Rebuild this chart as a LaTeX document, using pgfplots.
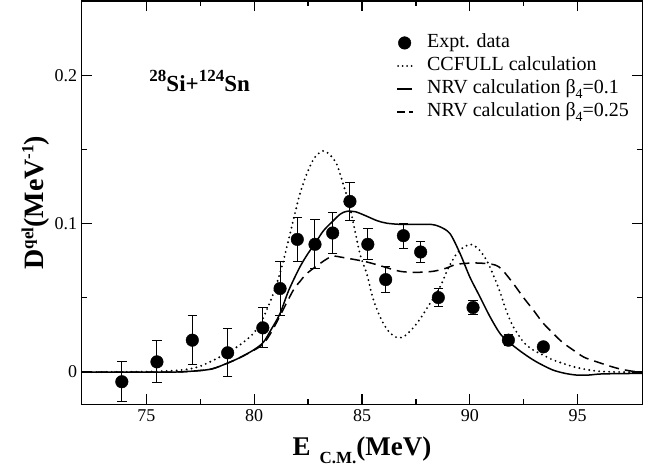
\documentclass[border=0pt]{standalone}
\usepackage{fontspec}
\setmainfont{Liberation Serif}
\usepackage{pgfplots}
\pgfplotsset{compat=1.18}
\usepackage{pgfplotstable}
\usetikzlibrary{calc}

% E_cm (MeV), D^qel (MeV^-1), error
\pgfplotstableread{
E      D        err
73.86  -0.0065  0.0135
75.49   0.0069  0.0142
77.13   0.0215  0.0167
78.77   0.0130  0.0161
80.40   0.0298  0.0135
81.20   0.0563  0.0180
82.00   0.0894  0.0150
82.82   0.0861  0.0166
83.64   0.0937  0.0140
84.44   0.1150  0.0126
85.27   0.0861  0.0103
86.10   0.0623  0.0086
86.92   0.0919  0.0084
87.72   0.0809  0.0074
88.54   0.0502  0.0060
90.15   0.0435  0.0045
91.79   0.0215  0.0036
93.41   0.0170  0.0025
}\expt

\pgfplotstableread{
E      D
72.0   0.0
75.0   0.0003
76.56  0.0013
77.5   0.004
78.72  0.0126
79.4   0.019
79.96  0.026
80.4   0.036
80.89  0.053
81.3   0.072
81.81  0.102
82.1   0.119
82.44  0.1336
82.8   0.1445
83.2   0.149
83.5   0.1465
83.82  0.1403
84.1   0.128
84.44  0.111
84.9   0.080
85.22  0.0664
85.5   0.050
85.84  0.0372
86.2   0.028
86.61  0.0233
87.0   0.0245
87.54  0.0327
88.1   0.045
88.62  0.0574
89.0   0.070
89.39  0.0798
89.7   0.084
90.05  0.086
90.4   0.083
90.78  0.0753
91.1   0.065
91.4   0.054
91.7   0.041
92.02  0.0305
92.5   0.020
92.95  0.0148
93.4   0.0115
93.87  0.0081
94.4   0.0055
94.8   0.0036
95.5   0.0015
96.04  0.0005
97.0   0.0
98.0   0.0
}\ccfull

\pgfplotstableread{
E      D
72.0   0.0
76.0   0.0
77.0   0.0005
78.0   0.002
78.72  0.0058
79.3   0.0095
79.96  0.0148
80.42  0.020
80.8   0.029
81.2   0.0395
81.6   0.055
82.12  0.0708
82.5   0.080
82.82  0.0865
83.2   0.095
83.67  0.102
84.0   0.1065
84.29  0.1083
84.7   0.108
85.22  0.105
85.7   0.102
86.15  0.1003
86.8   0.0995
87.5   0.0995
88.2   0.0995
88.6   0.098
89.08  0.0933
89.55  0.0798
90.0   0.0641
90.47  0.0507
90.94  0.0372
91.4   0.026
91.79  0.0204
92.4   0.0135
92.95  0.0081
93.4   0.0045
93.87  0.0013
94.4  -0.0008
94.95 -0.002
95.5  -0.002
96.04 -0.0013
97.0  -0.001
98.0  -0.0009
}\nrvA

\pgfplotstableread{
E      D
72.0   0.0
76.0   0.0
77.0   0.0005
78.0   0.002
78.72  0.0058
79.3   0.0095
79.96  0.0145
80.42  0.019
80.8   0.027
81.2   0.038
81.81  0.0551
82.12  0.061
82.44  0.0664
83.05  0.0731
83.4   0.0765
83.67  0.0782
84.0   0.0775
84.44  0.0764
85.22  0.0742
86.0   0.071
86.76  0.0679
87.5   0.0672
88.3   0.0679
88.9   0.070
89.39  0.0726
90.16  0.0735
90.78  0.0731
91.2   0.072
91.5   0.069
92.02  0.0596
92.5   0.050
92.95  0.0417
93.4   0.033
93.87  0.026
94.3   0.020
94.8   0.0148
95.3   0.010
95.89  0.0069
96.5   0.004
97.0   0.002
97.58  0.0005
98.0   0.0
}\nrvB

\newcommand{\sups}[1]{\raisebox{10pt}{\fontsize{17}{17}\selectfont #1}}
\newcommand{\subf}{\raisebox{-5pt}{\fontsize{14}{14}\selectfont 4}}

\begin{document}
\begin{tikzpicture}
\begin{axis}[
  scale only axis, width=560.6pt, height=403.3pt,
  xmin=72, xmax=98, ymin=-0.0217, ymax=0.25,
  xtick={75,80,...,95}, ytick={0,0.1,0.2},
  minor x tick num=1, minor y tick num=1,
  tick align=inside, major tick length=10pt, minor tick length=5pt,
  axis line style={line width=1.2pt},
  every tick/.style={black, line width=1.2pt},
  /pgf/number format/assume math mode=true,
  ticklabel style={font=\fontsize{18}{18}\selectfont},
  yticklabel style={xshift=-1pt},
  xticklabel style={yshift=-2pt},
  xlabel={\textbf{E\hspace{9pt}\raisebox{-8pt}{\fontsize{17}{17}\selectfont C.M.}(MeV)}},
  xlabel style={font=\fontsize{27}{27}\selectfont, at={(axis description cs:0.5,-0.1257)}, anchor=base},
  ylabel={\textbf{D\sups{qel}(MeV\sups{-1})}},
  ylabel style={font=\fontsize{28}{28}\selectfont, at={(axis description cs:-0.0685,0.5)}, anchor=base},
  legend style={at={(axis description cs:0.561,0.92)}, anchor=north west,
    draw=none, fill=none, inner sep=0pt, row sep=4pt,
    font=\fontsize{20}{20}\selectfont,
    nodes={inner sep=1pt, text height=13pt, text depth=4pt},
    /tikz/every odd column/.append style={column sep=12pt}},
  legend cell align=left,
]
\addlegendimage{legend image code/.code={\fill[black] (7.5pt,0pt) circle (6.3pt);}}
\addlegendentry{Expt. data}
\addlegendimage{legend image code/.code={\draw[black, line width=2pt, line cap=round, dash pattern=on 0pt off 4.5pt] (1pt,0pt) -- (16pt,0pt);}}
\addlegendentry{CCFULL calculation}
\addlegendimage{legend image code/.code={\draw[black, line width=1.5pt] (0pt,0pt) -- (15pt,0pt);}}
\addlegendentry{NRV calculation β\subf=0.1}
\addlegendimage{legend image code/.code={\draw[black, line width=1.5pt, dash pattern=on 8pt off 4pt] (0pt,0pt) -- (16pt,0pt);}}
\addlegendentry{NRV calculation β\subf=0.25}

\addplot[forget plot, black, line width=2.1pt, line cap=round, dash pattern=on 0pt off 5pt, smooth] table[x=E, y=D] {\ccfull};
\addplot[forget plot, black, line width=1.5pt, smooth] table[x=E, y=D] {\nrvA};
\addplot[forget plot, black, line width=1.5pt, dash pattern=on 10pt off 6pt, smooth] table[x=E, y=D] {\nrvB};
\addplot[forget plot, only marks, mark=*, mark size=6.3pt, black,
  error bars/.cd, y dir=both, y explicit,
  error bar style={black, line width=1pt},
  error mark options={rotate=90, black, mark size=4.7pt, line width=1pt}]
  table[x=E, y=D, y error=err] {\expt};

\node[anchor=base west, font=\fontsize{23}{23}\selectfont\bfseries] at (axis cs:74.98,0.1892)
  {\sups{28}Si+\sups{124}Sn};
\end{axis}
\pgfresetboundingbox
\path[use as bounding box] ($(current axis.south west)+(-81.7pt,-64.7pt)$) rectangle ($(current axis.north east)+(9.7pt,1pt)$);
\end{tikzpicture}
\end{document}
